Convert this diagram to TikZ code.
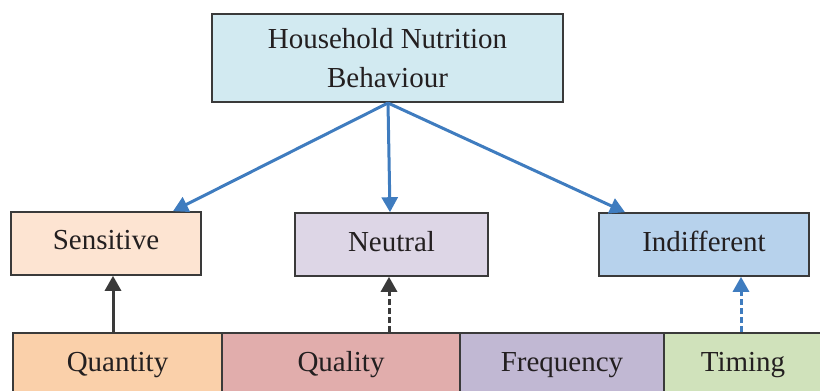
\documentclass[tikz,border=0pt]{standalone}
\usepackage{fontspec}
\setmainfont{Liberation Serif}
\usetikzlibrary{arrows.meta}
\definecolor{topfill}{HTML}{D2EAF1}
\definecolor{sensfill}{HTML}{FDE4D2}
\definecolor{neutfill}{HTML}{DDD6E6}
\definecolor{indfill}{HTML}{B7D2EC}
\definecolor{qtyfill}{HTML}{FAD0AA}
\definecolor{qualfill}{HTML}{E1ADAC}
\definecolor{freqfill}{HTML}{C1B8D3}
\definecolor{timfill}{HTML}{D0E2BB}
\definecolor{arrblue}{HTML}{3F7CBF}
\definecolor{edge}{HTML}{3A3A3A}
\definecolor{txt}{HTML}{231F20}
\tikzset{
  box/.style={draw=edge, line width=1.6pt, inner sep=0pt, text=txt, align=center,
    font=\fontsize{29}{38.6}\selectfont},
  midbox/.style={box, minimum height=63pt, text height=20pt, text depth=7pt},
  lowbox/.style={box, minimum height=59pt, text height=20pt, text depth=3pt},
  bluearrow/.style={draw=arrblue, line width=3pt, -{Triangle[length=15pt,width=16pt]}},
  darkarrow/.style={draw=edge, line width=3pt, -{Triangle[length=15pt,width=16pt]}},
}
\begin{document}
\begin{tikzpicture}[x=1pt,y=-1pt]
\useasboundingbox (0,0) rectangle (820,391);
\clip (0,0) rectangle (820,391);
\node[box, fill=topfill, minimum width=351pt, minimum height=88pt] (top) at (387.5,58) {Household Nutrition\\Behaviour};
\node[midbox, fill=sensfill, minimum width=190pt, text depth=9pt] (sens) at (106,243.5) {Sensitive};
\node[midbox, fill=neutfill, minimum width=193pt] (neut) at (391.5,244.5) {Neutral};
\node[midbox, fill=indfill, minimum width=210pt] (ind) at (704,244.5) {Indifferent};
\node[lowbox, fill=qtyfill, minimum width=209pt] (qty) at (117.5,362.5) {Quantity};
\node[lowbox, fill=qualfill, minimum width=238pt] (qual) at (341,362.5) {Quality};
\node[lowbox, fill=freqfill, minimum width=204pt] (freq) at (562,362.5) {Frequency};
\node[lowbox, fill=timfill, minimum width=158pt] (tim) at (743,362.5) {Timing};
\coordinate (start) at (388,103);
\draw[bluearrow] (start) -- (sens.north -| 173,0);
\draw[bluearrow] (start) -- (neut.north -| 390,0);
\draw[bluearrow] (start) -- (ind.north -| 625,0);
\draw[darkarrow] (qty.north -| 113,0) -- (sens.south -| 113,0);
\draw[darkarrow, dash pattern=on 6pt off 3pt] (qual.north -| 389,0) -- (neut.south -| 389,0);
\draw[bluearrow, dash pattern=on 6pt off 3pt] (tim.north -| 741,0) -- (ind.south -| 741,0);
\end{tikzpicture}
\end{document}
